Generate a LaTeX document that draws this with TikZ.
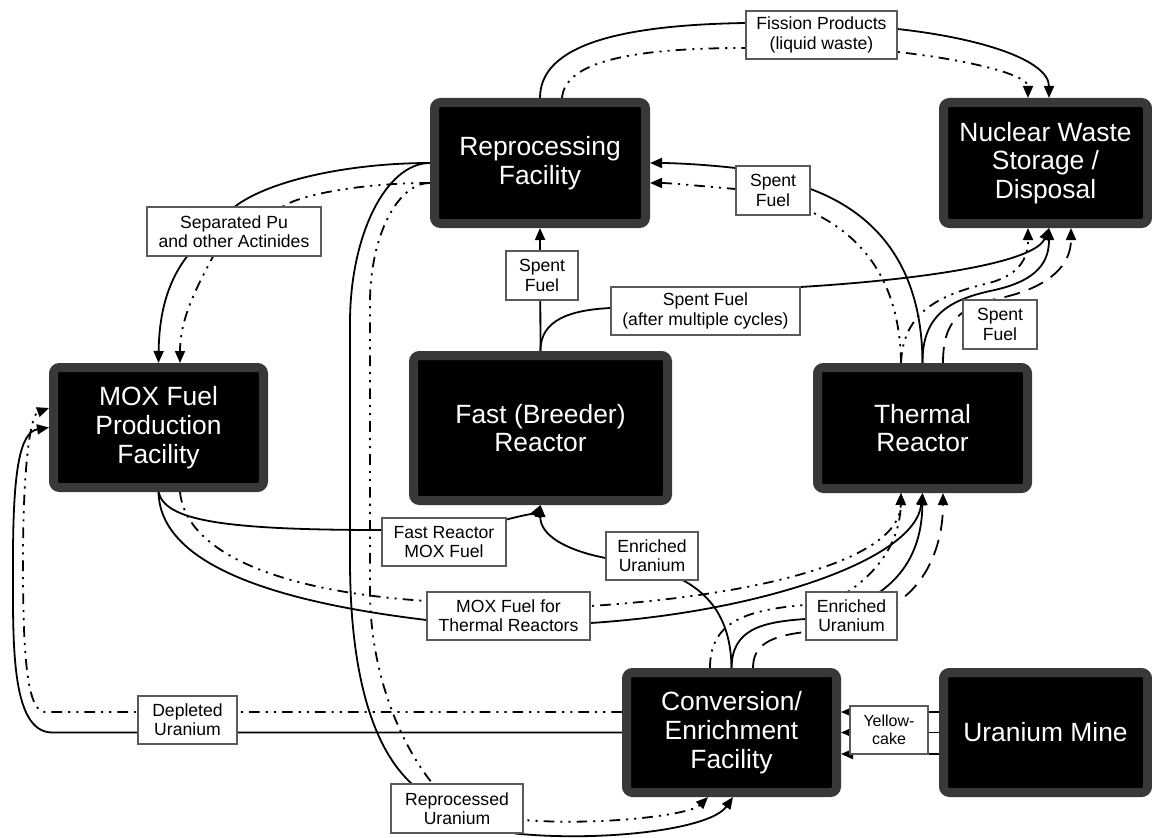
\documentclass[tikz,border=0pt]{standalone}
\usepackage{fontspec}
\setmainfont{Liberation Sans}
\usetikzlibrary{arrows.meta,calc}
\definecolor{bordergray}{RGB}{56,56,56}
\definecolor{lblgray}{RGB}{90,90,90}
\pgfdeclarelayer{edges}
\pgfsetlayers{edges,main}
\begin{document}
\begin{tikzpicture}[x=0.75pt,y=-0.75pt,
  facility/.style={draw=bordergray, line width=6.75pt, fill=black, rounded corners=4.5pt,
    text=white, align=center, inner sep=0pt, font=\fontsize{19.8}{21.6}\selectfont},
  lbl/.style={draw=lblgray, line width=0.8pt, fill=white, align=center, inner sep=0pt,
    font=\fontsize{13.2}{14.4}\selectfont},
  flow/.style={line width=1.35pt, -{Triangle[length=9pt,width=7.5pt]}},
  dd/.style={dash pattern=on 8pt off 4.5pt on 1.6pt off 4.5pt on 1.6pt off 4.5pt},
  ld/.style={dash pattern=on 12pt off 7pt},
]
\useasboundingbox (0,0) rectangle (1152,838);

% facilities
\node[facility, minimum width=158.25pt, minimum height=90.75pt] (repro) at (540,163) {Reprocessing\\Facility};
\node[facility, minimum width=153pt, minimum height=90.75pt] (waste) at (1045.5,163) {Nuclear Waste\\Storage /\\Disposal};
\node[facility, minimum width=157.5pt, minimum height=90pt] (mox) at (158.5,427.5) {MOX Fuel\\Production\\Facility};
\node[facility, minimum width=190.5pt, minimum height=108.75pt] (fast) at (540.5,428) {Fast (Breeder)\\Reactor};
\node[facility, minimum width=157.5pt, minimum height=90.75pt] (thermal) at (922.5,428) {Thermal\\Reactor};
\node[facility, minimum width=157.5pt, minimum height=90pt] (conv) at (731.5,732.5) {Conversion/\\Enrichment\\Facility};
\node[facility, minimum width=153pt, minimum height=90pt] (mine) at (1045.5,732.5) {Uranium Mine};

% labels
\node[lbl, minimum width=113.25pt, minimum height=36pt] (fis) at (821.5,35) {Fission Products\\(liquid waste)};
\node[lbl, minimum width=55.5pt, minimum height=36.75pt] (sfA) at (773,190.5) {Spent\\Fuel};
\node[lbl, minimum width=130.5pt, minimum height=36.75pt] (sep) at (234,231.5) {Separated Pu\\and other Actinides};
\node[lbl, minimum width=54pt, minimum height=36.75pt] (sfB) at (542,275.5) {Spent\\Fuel};
\node[lbl, minimum width=141.75pt, minimum height=36pt] (sfm) at (705.5,311) {Spent Fuel\\(after multiple cycles)};
\node[lbl, minimum width=55.5pt, minimum height=36.75pt] (sfC) at (1000,324.5) {Spent\\Fuel};
\node[lbl, minimum width=93pt, minimum height=36pt] (frm) at (444,542) {Fast Reactor\\MOX Fuel};
\node[lbl, minimum width=69pt, minimum height=36pt] (eu1) at (652,556) {Enriched\\Uranium};
\node[lbl, minimum width=122.25pt, minimum height=36pt] (mft) at (508.5,616) {MOX Fuel for\\Thermal Reactors};
\node[lbl, minimum width=68.25pt, minimum height=36pt] (eu2) at (851.5,616) {Enriched\\Uranium};
\node[lbl, minimum width=74.25pt, minimum height=36pt] (dep) at (187.5,720) {Depleted\\Uranium};
\node[lbl, minimum width=58.5pt, minimum height=36pt, font=\fontsize{12}{13.5}\selectfont] (yel) at (889,730) {Yellow-\\cake};
\node[lbl, minimum width=99pt, minimum height=36.75pt] (rpu) at (457,808.5) {Reprocessed\\Uranium};

\begin{pgfonlayer}{edges}
% fission products
\draw[flow] (repro.north) .. controls (540,45) and (620,25) .. ($(fis.west)+(0,-12)$) -- ($(fis.east)+(0,-6)$) .. controls (980,38) and (1049,60) .. ($(waste.north)+(3.5,0)$);
\draw[flow,dd] ($(repro.north)+(22,0)$) .. controls (565,62) and (630,48) .. ($(fis.west)+(0,13)$) -- ($(fis.east)+(0,17)$) .. controls (970,60) and (1028,75) .. ($(waste.north)+(-17.5,0)$);
% spent fuel thermal -> reprocessing
\draw[flow] (thermal.north) .. controls (922,270) and (880,215) .. ($(sfA.east)+(0,-1.5)$) -- ($(sfA.west)+(0,-22.5)$) .. controls (700,164) and (670,163) .. (repro.east);
\draw[flow,dd] ($(thermal.north)+(-21.5,0)$) .. controls (900,290) and (870,240) .. ($(sfA.south east)+(2,-3)$) -- ($(sfA.west)+(0,-1.5)$) .. controls (700,186) and (670,183) .. ($(repro.east)+(0,20)$);
% separated Pu
\draw[flow] (repro.west) .. controls (350,163) and (270,180) .. ($(sep.north)+(1,0)$) -- ($(sep.south)+(-47,0)$) .. controls (165,285) and (159,320) .. (mox.north);
\draw[flow,dd] ($(repro.west)+(0,20)$) .. controls (360,183) and (300,195) .. ($(sep.north)+(49,0)$) -- ($(sep.south)+(-21,0)$) .. controls (195,290) and (180,320) .. ($(mox.north)+(21.5,0)$);
% fast -> reprocessing
\draw[flow] (fast.north) -- (repro.south);
% fast -> waste
\draw[flow] (fast.north) .. controls (540,320) and (570,310) .. ($(sfm.west)+(0,-3)$) -- ($(sfm.east)+(0,-24)$) .. controls (930,279) and (1035,262) .. ($(waste.south)+(3.5,0)$);
% thermal -> waste
\draw[flow] (thermal.north) .. controls (922,315) and (950,300) .. (990,291) .. controls (1040,281) and (1049,260) .. ($(waste.south)+(3.5,0)$);
\draw[flow,dd] ($(thermal.north)+(-21.5,0)$) .. controls (903,315) and (935,296) .. (985,284) .. controls (1020,276) and (1028,258) .. ($(waste.south)+(-17.5,0)$);
\draw[flow,ld] ($(thermal.north)+(20.5,0)$) .. controls (943,320) and (960,306) .. (1005,297) .. controls (1050,286) and (1071,265) .. ($(waste.south)+(25.5,0)$);
% fast reactor MOX fuel
\draw[flow] (mox.south) .. controls (165,520) and (220,530) .. ($(frm.west)+(0,-12)$) -- ($(frm.north east)+(0,2)$) .. controls (525,515) and (537,512) .. (fast.south);
% MOX fuel for thermal reactors
\draw[flow] (mox.south) .. controls (160,560) and (260,600) .. ($(mft.west)+(0,4)$) -- ($(mft.east)+(0,7)$) .. controls (760,612) and (915,560) .. (thermal.south);
\draw[flow,dd] ($(mox.south)+(21.5,0)$) .. controls (185,545) and (260,590) .. ($(mft.west)+(0,-15)$) -- ($(mft.east)+(0,-10)$) .. controls (760,595) and (900,560) .. ($(thermal.south)+(-21.5,0)$);
% enriched uranium -> fast
\draw[flow] (conv.north) .. controls (731,620) and (710,595) .. ($(eu1.south east)+(-15,0)$) -- ($(eu1.west)+(0,2)$) .. controls (565,550) and (540,535) .. (fast.south);
% enriched uranium -> thermal
\draw[flow] (conv.north) .. controls (732,630) and (760,622) .. ($(eu2.west)+(0,3)$) -- ($(eu2.north east)+(-17,0)$) .. controls (910,570) and (922,540) .. (thermal.south);
\draw[flow,dd] ($(conv.north)+(-21.5,0)$) .. controls (710,625) and (740,610) .. ($(eu2.west)+(0,-11)$) -- ($(eu2.north)+(-3,0)$) .. controls (880,570) and (900,540) .. ($(thermal.south)+(-21.5,0)$);
\draw[flow,ld] ($(conv.north)+(21.5,0)$) .. controls (753,645) and (770,636) .. ($(eu2.west)+(0,16)$) -- ($(eu2.east)+(0,-14)$) .. controls (930,580) and (943,540) .. ($(thermal.south)+(20.5,0)$);
% depleted uranium
\draw[flow] (conv.west) -- (52,732.5) .. controls (10,732) and (13,640) .. (13,560) .. controls (13,470) and (20,432) .. (mox.west);
\draw[flow,dd] ($(conv.west)+(0,-20.5)$) -- (45,712) .. controls (25,712) and (23,640) .. (23,560) .. controls (23,470) and (30,415) .. ($(mox.west)+(0,-19.5)$);
% yellowcake
\draw[flow] (mine.west) -- (conv.east);
\draw[flow,dd] ($(mine.west)+(0,-20.5)$) -- ($(conv.east)+(0,-20.5)$);
\draw[flow,ld] ($(mine.west)+(0,21.5)$) -- ($(conv.east)+(0,21.5)$);
% reprocessed uranium
\draw[flow] (repro.west) .. controls (386,163) and (350,235) .. (350,323) -- (350,560) .. controls (350,680) and (375,750) .. ($(rpu.north west)+(21,0)$) -- ($(rpu.south east)+(-8,0)$) .. controls (600,842) and (710,830) .. ($(conv.south)+(1.5,0)$);
\draw[flow,dd] ($(repro.west)+(0,20)$) .. controls (397,183) and (370,237) .. (370,303) -- (370,590) .. controls (370,680) and (405,750) .. ($(rpu.north west)+(42,0)$) -- ($(rpu.east)+(0,11.5)$) .. controls (600,826) and (690,815) .. ($(conv.south)+(-23.5,0)$);
\end{pgfonlayer}
\end{tikzpicture}
\end{document}
